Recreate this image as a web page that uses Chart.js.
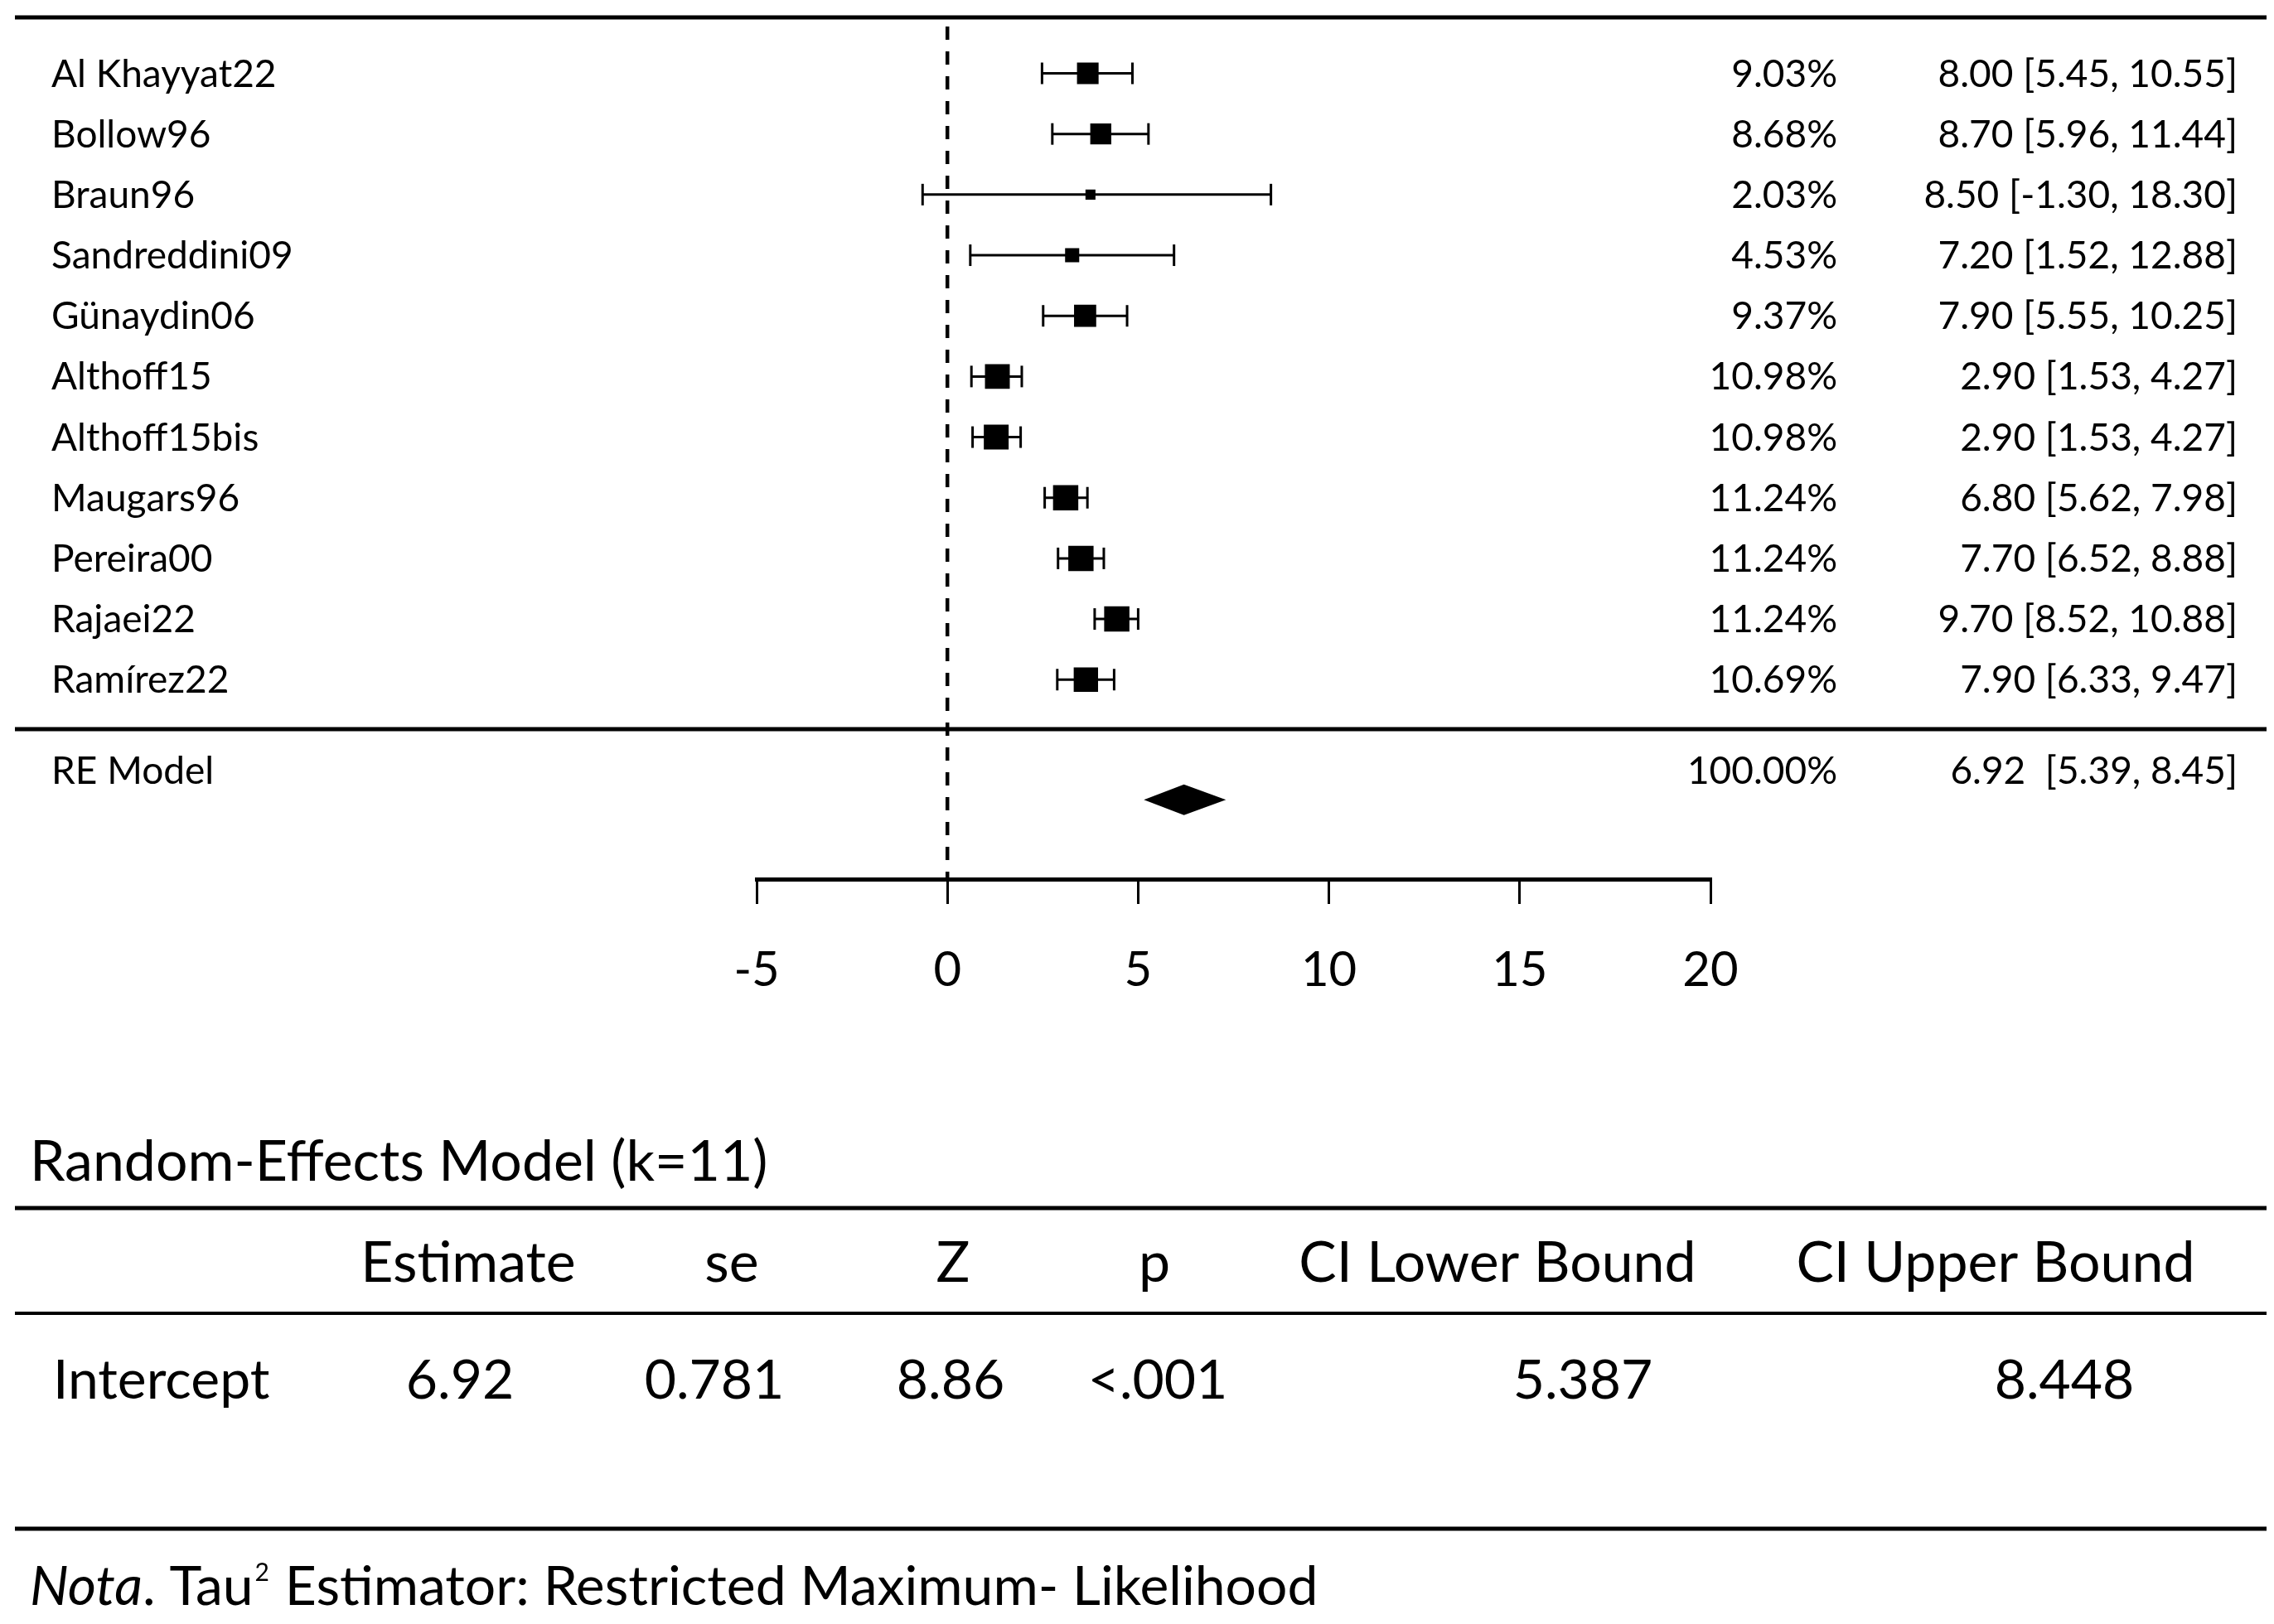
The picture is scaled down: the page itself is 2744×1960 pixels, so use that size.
<!DOCTYPE html>
<html>
<head>
<meta charset="utf-8">
<title>Forest plot – Random-Effects Model</title>
<script src="https://cdn.jsdelivr.net/npm/chart.js@4.4.1/dist/chart.umd.min.js"></script>
<style>
  html, body { margin: 0; padding: 0; background: #fff; overflow: hidden; }
  canvas { display: block; }
</style>
</head>
<body>
<canvas id="forestChart" width="2744" height="1960"></canvas>
<script>
// study rows, top to bottom
const studies = ['Al Khayyat22', 'Bollow96', 'Braun96', 'Sandreddini09', 'Günaydin06', 'Althoff15',
  'Althoff15bis', 'Maugars96', 'Pereira00', 'Rajaei22', 'Ramírez22'];
const weights = [9.03, 8.68, 2.03, 4.53, 9.37, 10.98, 10.98, 11.24, 11.24, 11.24, 10.69];
const effectText = ['8.00 [5.45, 10.55]', '8.70 [5.96, 11.44]', '8.50 [-1.30, 18.30]', '7.20 [1.52, 12.88]',
  '7.90 [5.55, 10.25]', '2.90 [1.53, 4.27]', '2.90 [1.53, 4.27]', '6.80 [5.62, 7.98]',
  '7.70 [6.52, 8.88]', '9.70 [8.52, 10.88]', '7.90 [6.33, 9.47]'];

// where the markers sit on the drawn axis
const markerX = [3.68, 4.02, 3.75, 3.27, 3.61, 1.31, 1.28, 3.10, 3.50, 4.44, 3.63];
const lowerX = [2.48, 2.75, -0.65, 0.60, 2.51, 0.63, 0.66, 2.55, 2.90, 3.86, 2.88];
const upperX = [4.85, 5.27, 8.48, 5.94, 4.71, 1.95, 1.92, 3.67, 4.10, 5.00, 4.37];

// pooled estimate (diamond: lower, centre, upper)
const pooledX = [5.15, 6.2, 7.3];
const pooledLabel = 'RE Model';
const pooledWeight = '100.00%';
const pooledText = '6.92  [5.39, 8.45]';

const xTicks = [-5, 0, 5, 10, 15, 20];

// summary table
const tableTitle = 'Random-Effects Model (k=11)';
const tableHead = ['Estimate', 'se', 'Z', 'p', 'CI Lower Bound', 'CI Upper Bound'];
const tableRowLabel = 'Intercept';
const tableRow = ['6.92', '0.781', '8.86', '<.001', '5.387', '8.448'];

const FONT = 'Lato, "Open Sans", sans-serif';

function hline(ctx, x1, x2, y, w) {
  ctx.lineWidth = w;
  ctx.beginPath();
  ctx.moveTo(x1, y);
  ctx.lineTo(x2, y);
  ctx.stroke();
}
function vline(ctx, x, y1, y2, w) {
  ctx.lineWidth = w;
  ctx.beginPath();
  ctx.moveTo(x, y1);
  ctx.lineTo(x, y2);
  ctx.stroke();
}

const forestExtras = {
  id: 'forestExtras',
  beforeDatasetsDraw(chart) {
    const { ctx, chartArea, scales: { x, y } } = chart;
    ctx.save();
    ctx.strokeStyle = '#000';
    ctx.fillStyle = '#000';

    // top rule and separator above the pooled row
    hline(ctx, 18, 2735, 21, 5);
    hline(ctx, 18, 2735, 880, 5);

    // no-effect line
    const x0 = x.getPixelForValue(0);
    ctx.setLineDash([16, 14]);
    ctx.lineDashOffset = -8;
    vline(ctx, x0, 24, chartArea.bottom, 4.5);
    ctx.setLineDash([]);

    // confidence intervals
    markerX.forEach((m, i) => {
      const yy = y.getPixelForValue(i + 1);
      const a = x.getPixelForValue(lowerX[i]);
      const b = x.getPixelForValue(upperX[i]);
      hline(ctx, a, b, yy, 3);
      vline(ctx, a, yy - 13, yy + 13, 3);
      vline(ctx, b, yy - 13, yy + 13, 3);
    });

    // pooled diamond
    const yd = y.getPixelForValue(12.98);
    ctx.beginPath();
    ctx.moveTo(x.getPixelForValue(pooledX[0]), yd);
    ctx.lineTo(x.getPixelForValue(pooledX[1]), yd - 18.5);
    ctx.lineTo(x.getPixelForValue(pooledX[2]), yd);
    ctx.lineTo(x.getPixelForValue(pooledX[1]), yd + 18.5);
    ctx.closePath();
    ctx.fill();
    ctx.restore();
  },
  afterDraw(chart) {
    const { ctx, scales: { y } } = chart;
    ctx.save();
    ctx.fillStyle = '#000';
    ctx.strokeStyle = '#000';
    ctx.textBaseline = 'alphabetic';

    // study columns
    ctx.font = `46px ${FONT}`;
    studies.forEach((s, i) => {
      const base = y.getPixelForValue(i + 1) + 16;
      ctx.textAlign = 'left';
      ctx.fillText(s, 62, base);
      ctx.textAlign = 'right';
      ctx.fillText(weights[i].toFixed(2) + '%', 2217, base);
      ctx.fillText(effectText[i], 2700, base);
    });
    const basePooled = y.getPixelForValue(12.5) + 16;
    ctx.textAlign = 'left';
    ctx.fillText(pooledLabel, 62, basePooled);
    ctx.textAlign = 'right';
    ctx.fillText(pooledWeight, 2217, basePooled);
    ctx.fillText(pooledText, 2700, basePooled);

    // summary table
    ctx.font = `68px ${FONT}`;
    ctx.textAlign = 'left';
    ctx.fillText(tableTitle, 36, 1425);
    hline(ctx, 18, 2735, 1458, 5);
    hline(ctx, 18, 2735, 1585, 4);
    hline(ctx, 18, 2735, 1845, 5);

    const headX = [565, 883, 1150, 1393, 1807, 2408];
    const cellX = [555, 862, 1147, 1397, 1910, 2491];
    ctx.textAlign = 'center';
    tableHead.forEach((h, i) => ctx.fillText(h, headX[i], 1547));
    ctx.font = `66px ${FONT}`;
    tableRow.forEach((v, i) => ctx.fillText(v, cellX[i], 1688));
    ctx.textAlign = 'left';
    ctx.fillText(tableRowLabel, 64, 1688);

    // note
    ctx.font = `italic 66px ${FONT}`;
    ctx.fillText('Nota', 36, 1937);
    let nx = 36 + ctx.measureText('Nota').width;
    ctx.font = `66px ${FONT}`;
    ctx.fillText('. Tau', nx, 1937);
    nx += ctx.measureText('. Tau').width;
    ctx.font = `30px ${FONT}`;
    ctx.fillText('2', nx + 2, 1908);
    nx += ctx.measureText('2').width + 4;
    ctx.font = `66px ${FONT}`;
    ctx.fillText(' Estimator: Restricted Maximum- Likelihood', nx, 1937);
    ctx.restore();
  }
};

function drawChart() {
  const ctx = document.getElementById('forestChart');
  new Chart(ctx, {
    type: 'scatter',
    data: {
      datasets: [{
        label: 'Studies',
        data: markerX.map((v, i) => ({ x: v, y: i + 1 })),
        pointStyle: 'rect',
        pointRadius: weights.map(w => (8 + 2 * w) / (2 * Math.SQRT1_2)),
        pointBackgroundColor: '#000',
        pointBorderWidth: 0,
        showLine: false
      }]
    },
    options: {
      responsive: false,
      devicePixelRatio: 1,
      animation: false,
      events: [],
      layout: { padding: { left: 913, right: 680, top: 21, bottom: 739 } },
      plugins: { legend: { display: false }, tooltip: { enabled: false } },
      scales: {
        x: {
          type: 'linear',
          position: 'bottom',
          min: -5,
          max: 20,
          afterBuildTicks: s => { s.ticks = xTicks.map(v => ({ value: v })); },
          afterFit: s => { s.height = 160; },
          ticks: {
            font: { family: FONT, size: 58 },
            color: '#000',
            padding: 45,
            maxRotation: 0,
            autoSkip: false
          },
          grid: { drawOnChartArea: false, drawTicks: true, tickLength: 30, color: '#000', lineWidth: 3 },
          border: { display: true, color: '#000', width: 5 }
        },
        y: {
          type: 'linear',
          display: false,
          reverse: true,
          min: 0.085,
          max: 14.29
        }
      }
    },
    plugins: [forestExtras]
  });
}

if (document.fonts && document.fonts.load) {
  Promise.all([
    document.fonts.load('46px Lato'),
    document.fonts.load('italic 66px Lato')
  ]).then(drawChart, drawChart);
} else {
  drawChart();
}
</script>
</body>
</html>
